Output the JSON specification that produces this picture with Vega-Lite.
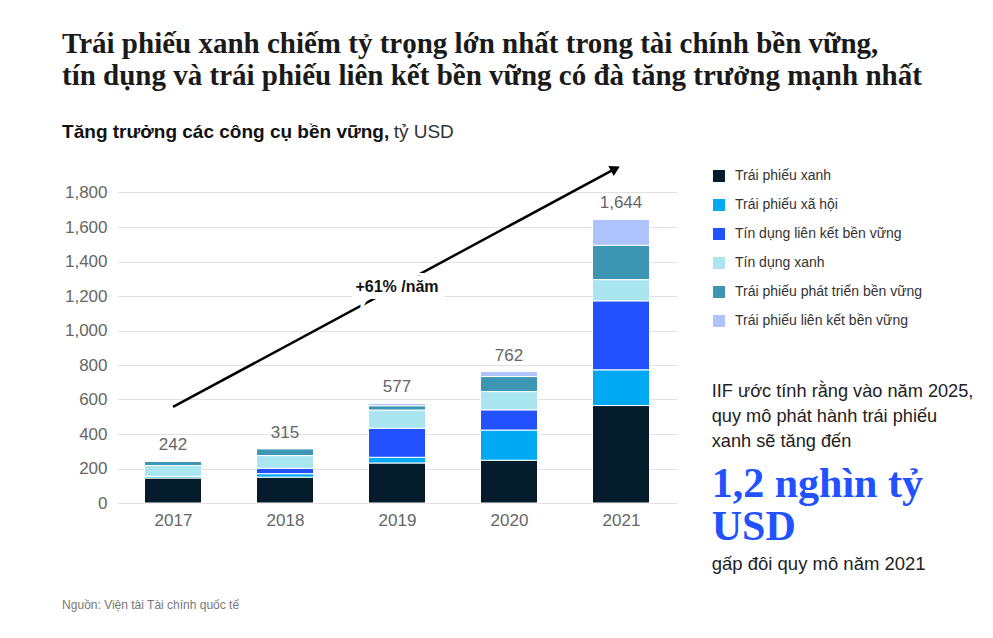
{
  "$schema": "https://vega.github.io/schema/vega-lite/v6.json",
  "width": 560,
  "height": 345,
  "autosize": {"type": "none"},
  "padding": {"left": 117, "top": 158, "right": 316, "bottom": 135},
  "background": "white",
  "config": {"view": {"stroke": null}, "font": "Liberation Sans"},
  "title": {
    "text": ["Trái phiếu xanh chiếm tỷ trọng lớn nhất trong tài chính bền vững,", "tín dụng và trái phiếu liên kết bền vững có đà tăng trưởng mạnh nhất"],
    "anchor": "start",
    "frame": "group",
    "dx": -55,
    "font": "Liberation Serif",
    "fontSize": 29,
    "fontWeight": "bold",
    "color": "#1a1a1a",
    "lineHeight": 32,
    "offset": 32
  },
  "resolve": {"axis": {"x": "independent", "y": "independent"}},
  "datasets": {
    "segments": [
      {"year": 2017, "type": "Trái phiếu xanh", "rank": 1, "value": 145},
      {"year": 2017, "type": "Trái phiếu xã hội", "rank": 2, "value": 10},
      {"year": 2017, "type": "Tín dụng liên kết bền vững", "rank": 3, "value": 0},
      {"year": 2017, "type": "Tín dụng xanh", "rank": 4, "value": 62},
      {"year": 2017, "type": "Trái phiếu phát triển bền vững", "rank": 5, "value": 25},
      {"year": 2017, "type": "Trái phiếu liên kết bền vững", "rank": 6, "value": 0},
      {"year": 2018, "type": "Trái phiếu xanh", "rank": 1, "value": 150},
      {"year": 2018, "type": "Trái phiếu xã hội", "rank": 2, "value": 20},
      {"year": 2018, "type": "Tín dụng liên kết bền vững", "rank": 3, "value": 31},
      {"year": 2018, "type": "Tín dụng xanh", "rank": 4, "value": 74},
      {"year": 2018, "type": "Trái phiếu phát triển bền vững", "rank": 5, "value": 40},
      {"year": 2018, "type": "Trái phiếu liên kết bền vững", "rank": 6, "value": 0},
      {"year": 2019, "type": "Trái phiếu xanh", "rank": 1, "value": 232},
      {"year": 2019, "type": "Trái phiếu xã hội", "rank": 2, "value": 33},
      {"year": 2019, "type": "Tín dụng liên kết bền vững", "rank": 3, "value": 168},
      {"year": 2019, "type": "Tín dụng xanh", "rank": 4, "value": 106},
      {"year": 2019, "type": "Trái phiếu phát triển bền vững", "rank": 5, "value": 25},
      {"year": 2019, "type": "Trái phiếu liên kết bền vững", "rank": 6, "value": 13},
      {"year": 2020, "type": "Trái phiếu xanh", "rank": 1, "value": 248},
      {"year": 2020, "type": "Trái phiếu xã hội", "rank": 2, "value": 175},
      {"year": 2020, "type": "Tín dụng liên kết bền vững", "rank": 3, "value": 117},
      {"year": 2020, "type": "Tín dụng xanh", "rank": 4, "value": 106},
      {"year": 2020, "type": "Trái phiếu phát triển bền vững", "rank": 5, "value": 87},
      {"year": 2020, "type": "Trái phiếu liên kết bền vững", "rank": 6, "value": 29},
      {"year": 2021, "type": "Trái phiếu xanh", "rank": 1, "value": 565},
      {"year": 2021, "type": "Trái phiếu xã hội", "rank": 2, "value": 207},
      {"year": 2021, "type": "Tín dụng liên kết bền vững", "rank": 3, "value": 400},
      {"year": 2021, "type": "Tín dụng xanh", "rank": 4, "value": 123},
      {"year": 2021, "type": "Trái phiếu phát triển bền vững", "rank": 5, "value": 199},
      {"year": 2021, "type": "Trái phiếu liên kết bền vững", "rank": 6, "value": 150}
    ],
    "totals": [
      {"year": 2017, "total": 242},
      {"year": 2018, "total": 315},
      {"year": 2019, "total": 577},
      {"year": 2020, "total": 762},
      {"year": 2021, "total": 1644}
    ]
  },
  "layer": [
    {
      "data": {"name": "segments"},
      "mark": {"type": "bar", "size": 57, "stroke": "white", "strokeWidth": 1},
      "encoding": {
        "x": {"field": "year", "type": "quantitative", "scale": {"domain": [2016.5, 2021.5], "nice": false, "zero": false, "padding": 0},
          "axis": {"values": [2017, 2018, 2019, 2020, 2021], "format": "d", "formatType": "number", "title": null, "ticks": false, "domain": false, "grid": false, "labelColor": "#666", "labelFontSize": 17, "labelPadding": 9, "labelOverlap": false}},
        "y": {"field": "value", "type": "quantitative", "stack": "zero", "scale": {"domain": [0, 2000], "nice": false, "zero": true},
          "axis": {"values": [0, 200, 400, 600, 800, 1000, 1200, 1400, 1600, 1800], "format": ",.0f", "formatType": "number", "title": null, "ticks": false, "domain": false, "gridColor": "#e2e2e2", "labelColor": "#666", "labelFontSize": 17, "labelPadding": 10, "labelOverlap": false}},
        "color": {"field": "type", "type": "nominal",
          "scale": {"domain": ["Trái phiếu xanh", "Trái phiếu xã hội", "Tín dụng liên kết bền vững", "Tín dụng xanh", "Trái phiếu phát triển bền vững", "Trái phiếu liên kết bền vững"],
            "range": ["#051c2c", "#00a9f4", "#2251ff", "#aae6f0", "#3c96b4", "#afc3ff"]},
          "legend": {"title": null, "orient": "none", "legendX": 595, "legendY": 11, "symbolType": "square", "symbolSize": 144, "symbolStrokeWidth": 0, "labelFontSize": 14, "labelColor": "#333", "rowPadding": 15, "labelOffset": 9, "labelLimit": 400}},
        "order": {"field": "rank", "type": "quantitative", "sort": "ascending"}
      }
    },
    {
      "data": {"name": "totals"},
      "mark": {"type": "text", "baseline": "bottom", "dy": -7, "fontSize": 17, "color": "#666"},
      "encoding": {
        "x": {"field": "year", "type": "quantitative", "axis": null},
        "y": {"field": "total", "type": "quantitative", "axis": null},
        "text": {"field": "total", "type": "quantitative", "format": ","}
      }
    },
    {
      "data": {"values": [{}]},
      "mark": {"type": "rule", "color": "black", "strokeWidth": 2.5},
      "encoding": {"x": {"datum": 2017, "axis": null}, "y": {"datum": 557, "axis": null}, "x2": {"datum": 2020.95}, "y2": {"datum": 1938}}
    },
    {
      "data": {"values": [{}]},
      "mark": {"type": "point", "shape": "triangle-up", "angle": 62, "filled": true, "size": 130, "color": "black", "opacity": 1},
      "encoding": {"x": {"datum": 2020.95, "axis": null}, "y": {"datum": 1938, "axis": null}}
    },
    {
      "data": {"values": [{}]},
      "mark": {"type": "text", "text": "+61% /năm", "fontSize": 16, "fontWeight": "bold", "color": "white", "stroke": "white", "strokeWidth": 14, "baseline": "middle"},
      "encoding": {"x": {"datum": 2019, "axis": null}, "y": {"datum": 1250, "axis": null}}
    },
    {
      "data": {"values": [{}]},
      "mark": {"type": "text", "text": "+61% /năm", "fontSize": 16, "fontWeight": "bold", "color": "#111", "baseline": "middle"},
      "encoding": {"x": {"datum": 2019, "axis": null}, "y": {"datum": 1250, "axis": null}}
    },
    {
      "data": {"values": [{}]},
      "mark": {"type": "text", "text": "Tăng trưởng các công cụ bền vững,", "fontSize": 19, "fontWeight": "bold", "color": "#111", "align": "left", "baseline": "alphabetic"},
      "encoding": {"x": {"datum": 2016.01, "axis": null}, "y": {"datum": 2116, "axis": null}}
    },
    {
      "data": {"values": [{}]},
      "mark": {"type": "text", "text": "tỷ USD", "fontSize": 19, "color": "#333", "align": "left", "baseline": "alphabetic"},
      "encoding": {"x": {"datum": 2018.97, "axis": null}, "y": {"datum": 2116, "axis": null}}
    },
    {
      "data": {"values": [{}]},
      "mark": {"type": "text", "text": ["IIF ước tính rằng vào năm 2025,", "quy mô phát hành trái phiếu", "xanh sẽ tăng đến"], "lineHeight": 25, "fontSize": 18.2, "color": "#222", "align": "left", "baseline": "alphabetic"},
      "encoding": {"x": {"datum": 2021.81, "axis": null}, "y": {"datum": 614, "axis": null}}
    },
    {
      "data": {"values": [{}]},
      "mark": {"type": "text", "text": ["1,2 nghìn tỷ", "USD"], "lineHeight": 43, "font": "Liberation Serif", "fontSize": 42, "fontWeight": "bold", "color": "#2251ff", "align": "left", "baseline": "alphabetic"},
      "encoding": {"x": {"datum": 2021.81, "axis": null}, "y": {"datum": 32, "axis": null}}
    },
    {
      "data": {"values": [{}]},
      "mark": {"type": "text", "text": "gấp đôi quy mô năm 2021", "fontSize": 18.5, "color": "#222", "align": "left", "baseline": "alphabetic"},
      "encoding": {"x": {"datum": 2021.81, "axis": null}, "y": {"datum": -388, "axis": null}}
    },
    {
      "data": {"values": [{}]},
      "mark": {"type": "text", "text": "Nguồn: Viện tài Tài chính quốc tế", "fontSize": 12, "color": "#777", "align": "left", "baseline": "alphabetic"},
      "encoding": {"x": {"datum": 2016.01, "axis": null}, "y": {"datum": -614, "axis": null}}
    }
  ]
}
